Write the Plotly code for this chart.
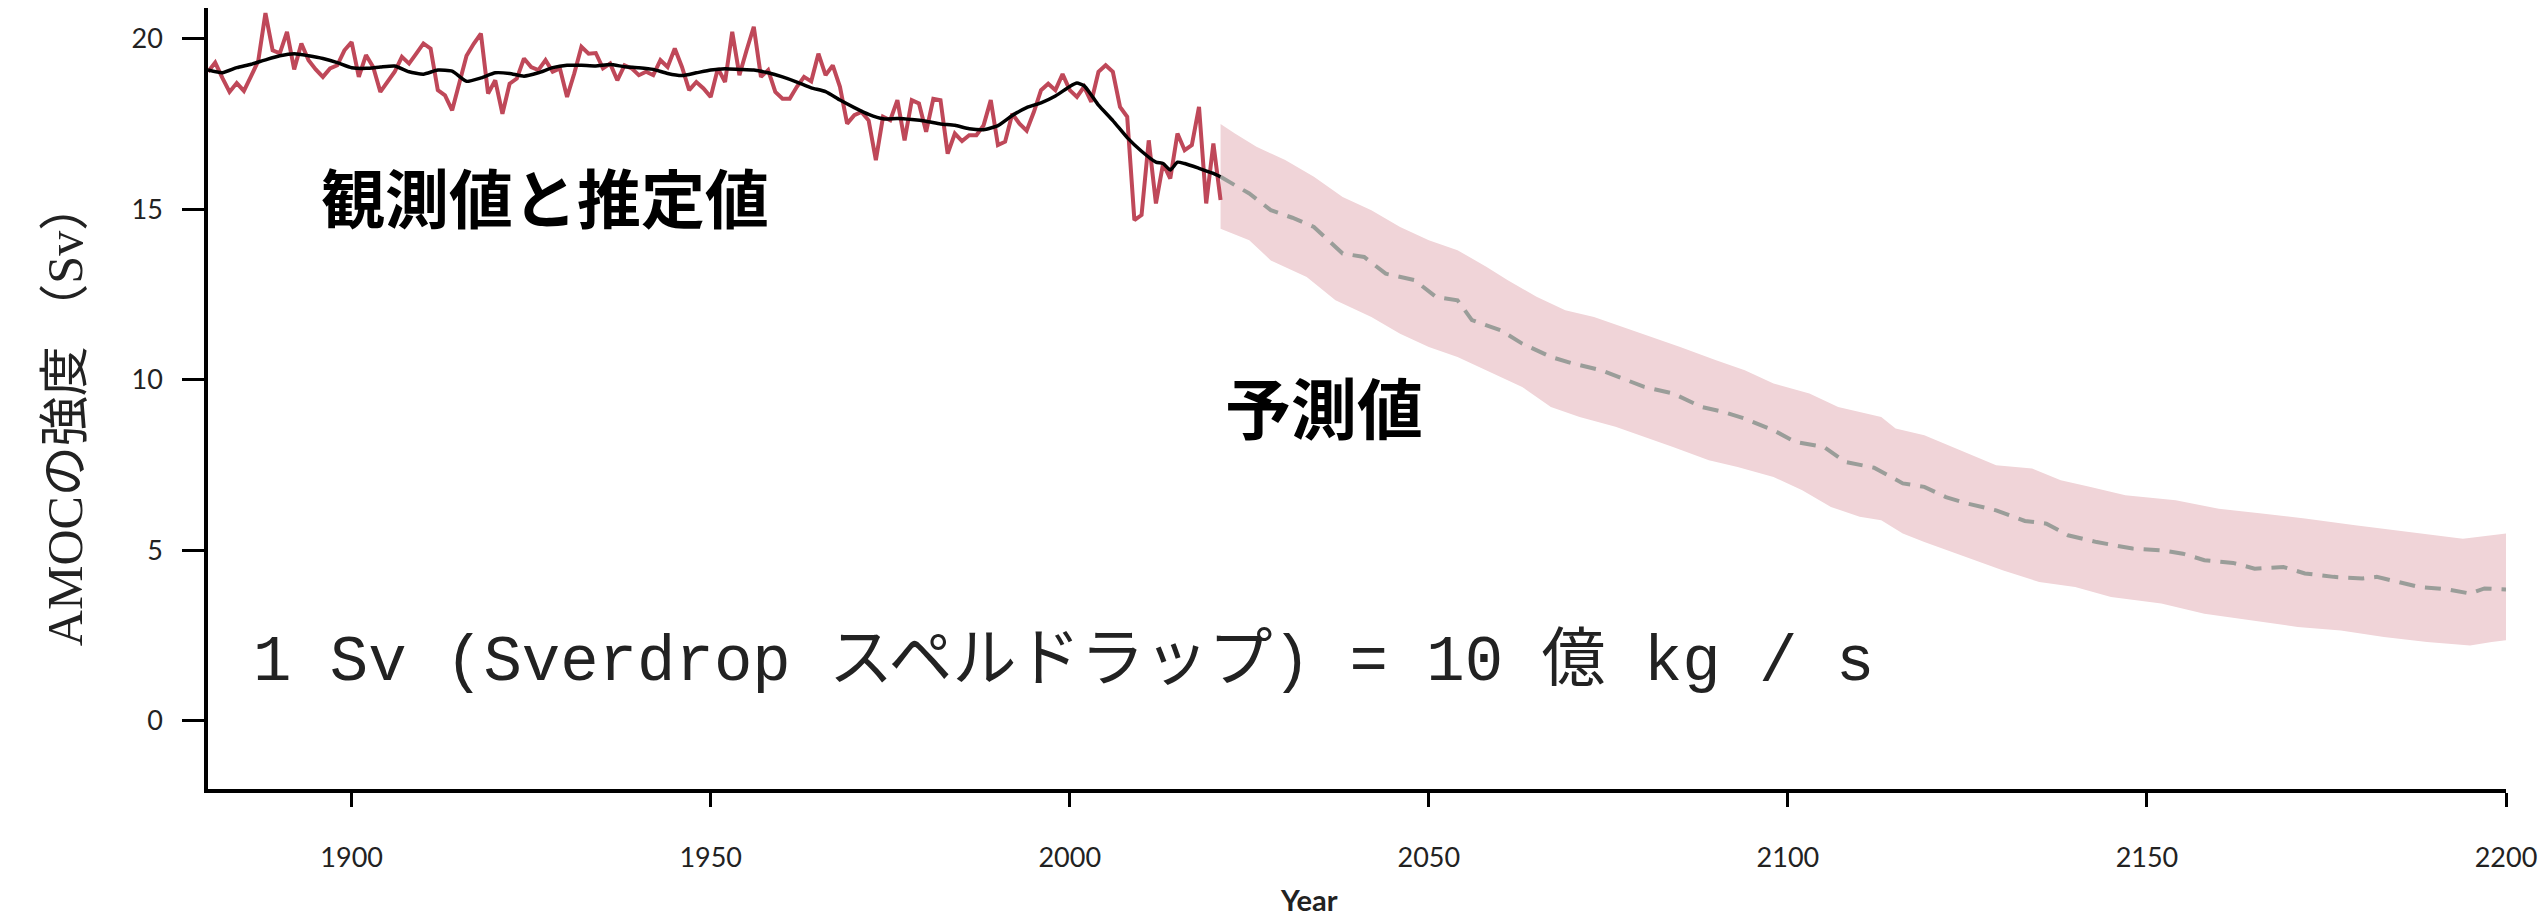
import plotly.graph_objects as go

# ---------------- data ----------------
obs_years = list(range(1880, 2022))
obs_values = [
    19.03, 19.3, 18.85, 18.44, 18.7, 18.47, 18.9, 19.35, 20.75, 19.66,
    19.57, 20.2, 19.1, 19.86, 19.37, 19.1, 18.88, 19.13, 19.22, 19.66,
    19.9, 18.88, 19.52, 19.17, 18.44, 18.73, 19.03, 19.47, 19.27, 19.56,
    19.86, 19.71, 18.49, 18.34, 17.9, 18.7, 19.5, 19.85, 20.15, 18.39,
    18.78, 17.8, 18.68, 18.83, 19.42, 19.17, 19.08, 19.37, 19.03, 19.13,
    18.29, 18.98, 19.76, 19.56, 19.58, 19.13, 19.27, 18.78, 19.22, 19.13,
    18.93, 19.03, 18.93, 19.37, 19.17, 19.71, 19.17, 18.49, 18.73, 18.54,
    18.29, 19.13, 18.73, 20.2, 18.93, 19.66, 20.35, 18.88, 19.08, 18.44,
    18.24, 18.24, 18.59, 18.88, 18.75, 19.56, 18.93, 19.22, 18.59, 17.51,
    17.76, 17.85, 17.6, 16.44, 17.71, 17.61, 18.2, 17.02, 18.2, 18.1,
    17.27, 18.24, 18.2, 16.63, 17.22, 17.0, 17.17, 17.17, 17.46, 18.2,
    16.88, 16.98, 17.8, 17.51, 17.3, 17.85, 18.49, 18.68, 18.49, 18.96,
    18.49, 18.29, 18.59, 18.15, 19.03, 19.22, 19.03, 18.0, 17.71, 14.68,
    14.83, 17.02, 15.17, 16.34, 15.9, 17.22, 16.73, 16.88, 18.0, 15.17,
    16.93, 15.27,
]

smooth_years = [
    1880, 1882, 1884, 1886, 1888, 1890, 1892, 1894, 1896, 1898,
    1900, 1902, 1904, 1906, 1908, 1910, 1912, 1914, 1916, 1918,
    1920, 1922, 1924, 1926, 1928, 1930, 1932, 1934, 1936, 1938,
    1940, 1942, 1944, 1946, 1948, 1950, 1952, 1954, 1956, 1958,
    1960, 1962, 1964, 1966, 1968, 1970, 1972, 1974, 1976, 1978,
    1980, 1982, 1984, 1986, 1988, 1990, 1992, 1994, 1996, 1998,
    2000, 2001, 2002, 2003, 2004, 2006, 2008, 2010, 2012, 2013,
    2014, 2015, 2016, 2018, 2020, 2021,
]
smooth_values = [
    19.08, 19.0, 19.15, 19.25, 19.38, 19.5, 19.56, 19.5, 19.42, 19.3,
    19.15, 19.13, 19.17, 19.2, 19.03, 18.96, 19.08, 19.05, 18.75, 18.85,
    19.0, 18.98, 18.9, 19.0, 19.15, 19.22, 19.22, 19.2, 19.24, 19.18,
    19.15, 19.1, 18.98, 18.92, 19.0, 19.08, 19.12, 19.1, 19.08, 19.0,
    18.88, 18.73, 18.56, 18.45, 18.2, 17.98, 17.78, 17.65, 17.66, 17.63,
    17.58, 17.5, 17.46, 17.36, 17.33, 17.45, 17.75, 17.98, 18.12, 18.32,
    18.6, 18.7, 18.62, 18.35, 18.05, 17.6, 17.1, 16.7, 16.38, 16.34,
    16.15, 16.38, 16.34, 16.2, 16.05, 15.95,
]

proj_years = [
    2021, 2025, 2028, 2031, 2034, 2038, 2041, 2044, 2048, 2051,
    2054, 2056, 2060, 2063, 2067, 2070, 2074, 2077, 2080, 2084,
    2088, 2091, 2094, 2098, 2101, 2105, 2108, 2112, 2116, 2119,
    2122, 2125, 2129, 2133, 2136, 2139, 2143, 2148, 2152, 2155,
    2158, 2162, 2165, 2169, 2172, 2176, 2180, 2182, 2185, 2188,
    2192, 2195, 2197, 2200,
]
proj_mean = [
    15.95, 15.46, 14.97, 14.75, 14.48, 13.7, 13.6, 13.11, 12.92, 12.43,
    12.33, 11.75, 11.45, 11.06, 10.67, 10.48, 10.28, 10.04, 9.79, 9.6,
    9.2, 9.06, 8.86, 8.52, 8.18, 8.03, 7.59, 7.42, 6.96, 6.86,
    6.56, 6.37, 6.17, 5.86, 5.78, 5.44, 5.24, 5.05, 5.0, 4.9,
    4.71, 4.63, 4.46, 4.51, 4.32, 4.22, 4.17, 4.22, 4.07, 3.92,
    3.85, 3.73, 3.88, 3.85,
]

upper_years = [
    2021, 2023, 2026, 2030, 2034, 2038, 2042, 2046, 2050, 2054,
    2058, 2061, 2065, 2069, 2073, 2077, 2081, 2085, 2090, 2094,
    2098, 2103, 2107, 2111, 2113, 2115, 2119, 2124, 2129, 2134,
    2138, 2142, 2147, 2154, 2160, 2166, 2172, 2179, 2186, 2194,
    2198, 2200,
]
upper_values = [
    17.5, 17.22, 16.83, 16.44, 15.95, 15.36, 14.97, 14.48, 14.09, 13.8,
    13.31, 12.92, 12.43, 12.04, 11.84, 11.55, 11.26, 10.96, 10.57, 10.28,
    9.89, 9.6, 9.2, 9.01, 8.91, 8.57, 8.37, 7.93, 7.49, 7.4,
    7.05, 6.86, 6.61, 6.47, 6.22, 6.08, 5.93, 5.73, 5.54, 5.34,
    5.44, 5.49,
]

lower_years = [
    2021, 2025, 2028, 2033, 2037, 2042, 2046, 2050, 2054, 2058,
    2063, 2067, 2071, 2076, 2080, 2084, 2089, 2093, 2098, 2102,
    2106, 2110, 2113, 2116, 2119, 2124, 2130, 2135, 2140, 2145,
    2152, 2158, 2164, 2171, 2177, 2183, 2189, 2195, 2198, 2200,
]
lower_values = [
    14.43, 14.09, 13.5, 13.01, 12.33, 11.84, 11.35, 10.96, 10.67, 10.28,
    9.79, 9.2, 8.91, 8.62, 8.32, 8.03, 7.64, 7.44, 7.15, 6.76,
    6.27, 5.98, 5.88, 5.49, 5.24, 4.85, 4.41, 4.07, 3.92, 3.63,
    3.44, 3.14, 2.95, 2.75, 2.65, 2.46, 2.31, 2.21, 2.31, 2.36,
]

y_ticks = [0, 5, 10, 15, 20]
x_ticks = [1900, 1950, 2000, 2050, 2100, 2150, 2200]

label_obs = "観測値と推定値"
label_proj = "予測値"
label_unit = "1 Sv (Sverdrop スペルドラップ) = 10 億 kg / s"
y_title = "AMOCの強度 （Sv）"
x_title = "Year"

RED = "#bf4859"
BAND = "#f0d4d8"
GREY = "#9a9d99"

# ---------------- figure ----------------
fig = go.Figure()

fig.add_trace(go.Scatter(
    x=upper_years + lower_years[::-1],
    y=upper_values + lower_values[::-1],
    fill="toself", fillcolor=BAND, line=dict(width=0),
    mode="lines", hoverinfo="skip", showlegend=False,
))
fig.add_trace(go.Scatter(
    x=proj_years, y=proj_mean, mode="lines",
    line=dict(color=GREY, width=4, dash="16px,10px"),
    showlegend=False,
))
fig.add_trace(go.Scatter(
    x=obs_years, y=obs_values, mode="lines",
    line=dict(color=RED, width=4),
    showlegend=False,
))
fig.add_trace(go.Scatter(
    x=smooth_years, y=smooth_values, mode="lines",
    line=dict(color="black", width=3.5, shape="spline", smoothing=0.5),
    showlegend=False,
))

cjk_bold = "Noto Sans CJK JP"
fig.add_annotation(x=1895.4, y=15.41, xref="x", yref="y", text=f"<b>{label_obs}</b>",
                   showarrow=False, xanchor="left", yanchor="middle",
                   font=dict(family=cjk_bold, size=64, color="black"))
fig.add_annotation(x=2021.4, y=9.25, xref="x", yref="y", text=f"<b>{label_proj}</b>",
                   showarrow=False, xanchor="left", yanchor="middle",
                   font=dict(family=cjk_bold, size=66, color="black"))
fig.add_annotation(x=1886.0, y=1.72, xref="x", yref="y", text=label_unit,
                   showarrow=False, xanchor="left", yanchor="middle",
                   font=dict(family="Liberation Mono, Noto Sans CJK JP", size=64, color="#222222"))
fig.add_annotation(x=-0.0622, y=0.48, xref="paper", yref="paper", text=y_title,
                   showarrow=False, xanchor="center", yanchor="middle", textangle=-90,
                   font=dict(family="Liberation Serif, Noto Sans CJK JP", size=50, color="#222222"))
fig.add_annotation(x=0.479, y=-0.142, xref="paper", yref="paper", text=f"<b>{x_title}</b>",
                   showarrow=False, xanchor="center", yanchor="middle",
                   font=dict(family="Lato", size=29, color="#222222"))

fig.update_layout(
    width=2544, height=921,
    margin=dict(l=208, r=38, t=8, b=132),
    paper_bgcolor="white", plot_bgcolor="white",
    showlegend=False,
)
fig.update_xaxes(
    range=[1880, 2200], tickvals=x_ticks, ticks="outside", ticklen=14, tickwidth=2.5,
    tickcolor="black", showline=True, linecolor="black", linewidth=3.5,
    showgrid=False, zeroline=False, ticklabelstandoff=28,
    tickfont=dict(family="Lato", size=27, color="#222222"),
)
fig.update_yaxes(
    range=[-2, 20.9], tickvals=y_ticks, ticks="outside", ticklen=22, tickwidth=2.5,
    tickcolor="black", showline=True, linecolor="black", linewidth=3.5,
    showgrid=False, zeroline=False, ticklabelstandoff=14,
    tickfont=dict(family="Lato", size=27, color="#222222"),
)

fig.write_html("out.html", config={"displayModeBar": False},
               post_script="document.body.style.margin='0';")
